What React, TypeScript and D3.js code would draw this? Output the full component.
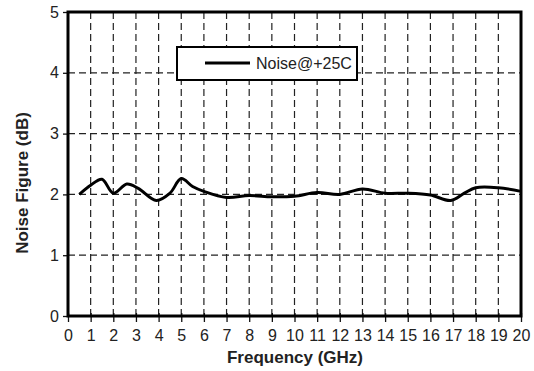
import React, { useEffect, useRef } from "react";
import * as d3 from "d3";

// Noise figure vs frequency
const freqGHz = [0.5, 1, 1.5, 2, 2.6, 3.1, 3.9, 4.5, 5, 5.5, 6, 7, 8, 9, 10, 11, 12, 13, 14, 15, 16, 16.9, 17.5, 18, 19, 20];
const noiseDb = [2.0, 2.15, 2.25, 2.02, 2.17, 2.1, 1.9, 2.02, 2.26, 2.13, 2.05, 1.95, 1.98, 1.96, 1.97, 2.03, 2.0, 2.09, 2.02, 2.02, 1.99, 1.9, 2.02, 2.11, 2.11, 2.05];
const xTicks = d3.range(0, 21);
const yTicks = [0, 1, 2, 3, 4, 5];
const seriesName = "Noise@+25C";

const W = 534;
const H = 371;
const m = { left: 68, right: 13, top: 12, bottom: 55 };

export default function App() {
  const ref = useRef<SVGSVGElement>(null);

  useEffect(() => {
    if (!ref.current) return;
    const svg = d3.select(ref.current);
    svg.selectAll("*").remove();

    const x = d3.scaleLinear().domain([0, 20]).range([m.left, W - m.right]);
    const y = d3.scaleLinear().domain([0, 5]).range([H - m.bottom, m.top]);
    const font = "'Liberation Sans', Arial, sans-serif";

    // dashed grid
    const grid = svg.append("g").attr("stroke", "#222").attr("stroke-width", 1.2).attr("stroke-dasharray", "7,4");
    grid.selectAll("line.v")
      .data(xTicks.filter((d) => d > 0 && d < 20))
      .join("line")
      .attr("x1", (d) => x(d)).attr("x2", (d) => x(d))
      .attr("y1", y(5)).attr("y2", y(0));
    grid.selectAll("line.h")
      .data(yTicks.filter((d) => d > 0 && d < 5))
      .join("line")
      .attr("x1", x(0)).attr("x2", x(20))
      .attr("y1", (d) => y(d)).attr("y2", (d) => y(d));

    // axes (ticks + labels)
    const xAxis = svg.append("g")
      .attr("transform", `translate(0,${y(0)})`)
      .call(d3.axisBottom(x).tickValues(xTicks).tickFormat(d3.format("d")).tickSize(6).tickSizeOuter(0).tickPadding(8));
    xAxis.selectAll(".tick line").attr("y1", -3).attr("stroke", "#111").attr("stroke-width", 1.3);
    xAxis.select(".domain").remove();
    xAxis.selectAll("text").attr("font-size", 16).attr("font-family", font).attr("fill", "#222");

    const yAxis = svg.append("g")
      .attr("transform", `translate(${x(0)},0)`)
      .call(d3.axisLeft(y).tickValues(yTicks).tickFormat(d3.format("d")).tickSize(5).tickSizeOuter(0).tickPadding(4));
    yAxis.selectAll(".tick line").attr("stroke", "#111").attr("stroke-width", 1.3);
    yAxis.select(".domain").remove();
    yAxis.selectAll("text").attr("font-size", 16).attr("font-family", font).attr("fill", "#222");

    // plot frame
    svg.append("rect")
      .attr("x", x(0)).attr("y", y(5))
      .attr("width", x(20) - x(0)).attr("height", y(0) - y(5))
      .attr("fill", "none").attr("stroke", "#000").attr("stroke-width", 3);

    // series
    const pts = freqGHz.map((f, i) => [f, noiseDb[i]] as [number, number]);
    const line = d3.line<[number, number]>()
      .x((d) => x(d[0])).y((d) => y(d[1]))
      .curve(d3.curveCatmullRom.alpha(0.5));
    svg.append("path").datum(pts).attr("d", line)
      .attr("fill", "none").attr("stroke", "#000").attr("stroke-width", 3)
      .attr("stroke-linejoin", "round");

    // legend
    const lg = svg.append("g");
    lg.append("rect").attr("x", 177).attr("y", 47).attr("width", 180).attr("height", 33)
      .attr("fill", "#fff").attr("stroke", "#000").attr("stroke-width", 2);
    lg.append("line").attr("x1", 205).attr("x2", 250).attr("y1", 63).attr("y2", 63)
      .attr("stroke", "#000").attr("stroke-width", 3);
    lg.append("text").attr("x", 256).attr("y", 69).text(seriesName)
      .attr("font-size", 16).attr("font-family", font).attr("fill", "#222");

    // axis titles
    svg.append("text").attr("x", 295).attr("y", 363)
      .attr("text-anchor", "middle").attr("font-size", 17).attr("font-weight", "bold")
      .attr("font-family", font).attr("fill", "#222").text("Frequency (GHz)");
    svg.append("text")
      .attr("transform", `translate(28,183) rotate(-90)`)
      .attr("text-anchor", "middle").attr("font-size", 17).attr("font-weight", "bold")
      .attr("font-family", font).attr("fill", "#222").text("Noise Figure (dB)");
  }, []);

  return (
    <svg
      ref={ref}
      width={W}
      height={H}
      style={{ position: "absolute", left: 0, top: 0, background: "#fff" }}
    />
  );
}
